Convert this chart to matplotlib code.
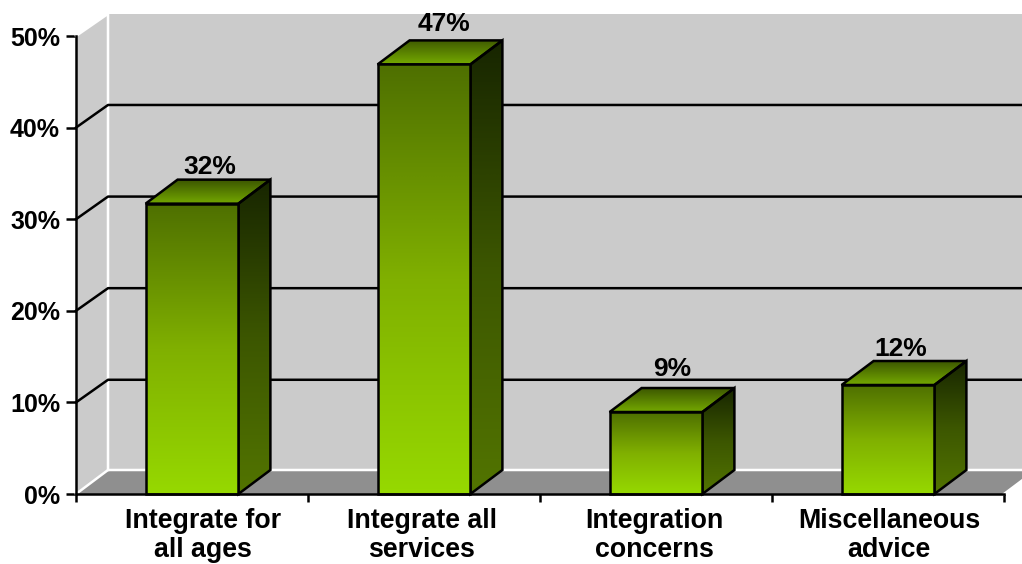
import numpy as np
import matplotlib
matplotlib.use('Agg')
import matplotlib.pyplot as plt
from matplotlib.patches import Polygon
from matplotlib.colors import LinearSegmentedColormap

plt.rcParams['font.family'] = ['Liberation Sans', 'DejaVu Sans']

categories = ['Integrate for\nall ages', 'Integrate all\nservices', 'Integration\nconcerns', 'Miscellaneous\nadvice']
values = [31.7, 46.9, 8.95, 11.9]
value_labels = ['32%', '47%', '9%', '12%']
y_ticks = [0, 10, 20, 30, 40, 50]
label_pos = [0.547, 1.49, 2.495, 3.505]
# hand nudges of the value labels, in points
label_nudge = [(1.5, 0), (3, 3), (0, 5), (-2, 0)]

# depth of the fake 3d box, in data units
dx = 32 / 232
dy = 24 / 9.16
bar_w = 0.4
lw = 1.8

front_cmap = LinearSegmentedColormap.from_list('front', ['#96d800', '#80b000', '#4f7000'])
side_cmap = LinearSegmentedColormap.from_list('side', ['#527400', '#3c5600', '#182600'])
top_cmap = LinearSegmentedColormap.from_list('top', ['#74a800', '#3d5800'])


def gradient_face(ax, corners, cmap, z):
    corners = np.array(corners)
    poly = Polygon(corners, closed=True, facecolor='none', edgecolor='black', lw=lw, zorder=z + 0.1, joinstyle='miter')
    ax.add_patch(poly)
    grad = np.linspace(0, 1, 64).reshape(-1, 1)
    im = ax.imshow(grad, origin='lower', cmap=cmap, aspect='auto', zorder=z, interpolation='bilinear',
                   extent=[corners[:, 0].min(), corners[:, 0].max(), corners[:, 1].min(), corners[:, 1].max()])
    im.set_clip_path(poly)


fig = plt.figure(figsize=(10.22, 5.64), dpi=100)
ax = fig.add_axes([0, 0, 1, 1])
ax.patch.set_visible(False)

# walls and floor
wall_top = 50 + dy - 0.2
ax.add_patch(Polygon([(dx, dy), (4 + dx, dy), (4 + dx, wall_top), (dx, wall_top)], facecolor='#cbcbcb', edgecolor='none', zorder=1))
ax.add_patch(Polygon([(0, 0), (dx, dy), (dx, wall_top), (0, 50)], facecolor='#cbcbcb', edgecolor='none', zorder=1))
ax.add_patch(Polygon([(0, 0), (4, 0), (4 + dx, dy), (dx, dy)], facecolor='#8f8f8f', edgecolor='none', zorder=1))
ax.plot([0, dx, dx], [50, wall_top, dy], color='white', lw=lw, zorder=2)
ax.plot([0, dx, 4 + dx], [0, dy, dy], color='white', lw=lw, zorder=2)
ax.plot([4, 4 + dx], [0, dy], color='white', lw=lw, zorder=2)

# gridlines
for t in y_ticks[1:-1]:
    ax.plot([0, dx, 4 + dx], [t, t + dy - 0.15, t + dy - 0.15], color='black', lw=lw, zorder=3)

# bars
for i, v in enumerate(values):
    x0 = i + 0.5 - bar_w / 2
    x1 = i + 0.5 + bar_w / 2
    gradient_face(ax, [(x0, 0), (x1, 0), (x1, v), (x0, v)], front_cmap, 6)
    gradient_face(ax, [(x1, 0), (x1 + dx, dy), (x1 + dx, v + dy), (x1, v)], side_cmap, 5)
    gradient_face(ax, [(x0, v), (x1, v), (x1 + dx, v + dy), (x0 + dx, v + dy)], top_cmap, 5)
    ax.annotate(value_labels[i], (i + 0.5 + dx / 2, v + dy + 0.05), xytext=label_nudge[i], textcoords='offset points',
                ha='center', va='bottom', fontsize=19, fontweight='bold', color='black', zorder=8)

ax.set_xlim(-76 / 232, 946 / 232)
ax.set_ylim(-70 / 9.16, 494 / 9.16)

for s in ['top', 'right']:
    ax.spines[s].set_visible(False)
ax.spines['left'].set_position(('data', 0))
ax.spines['bottom'].set_position(('data', 0))
ax.spines['left'].set_bounds(0, 50)
ax.spines['bottom'].set_bounds(0, 4)
ax.spines['left'].set_linewidth(lw)
ax.spines['bottom'].set_linewidth(lw)
ax.spines['left'].set_zorder(9)
ax.spines['bottom'].set_zorder(9)

ax.set_yticks(y_ticks)
ax.set_yticklabels([str(t) + '%' for t in y_ticks], fontsize=18, fontweight='bold')
ax.tick_params(axis='y', length=7, width=lw, pad=4.5)

ax.set_xticks([0, 1, 2, 3, 4])
ax.set_xticklabels([])
ax.set_xticks(label_pos, minor=True)
ax.set_xticklabels(categories, minor=True, fontsize=19.3, fontweight='bold', linespacing=1.15)
ax.tick_params(axis='x', which='major', length=6, width=lw)
ax.tick_params(axis='x', which='minor', length=0, pad=10)

fig.savefig('out.png', dpi=100)
